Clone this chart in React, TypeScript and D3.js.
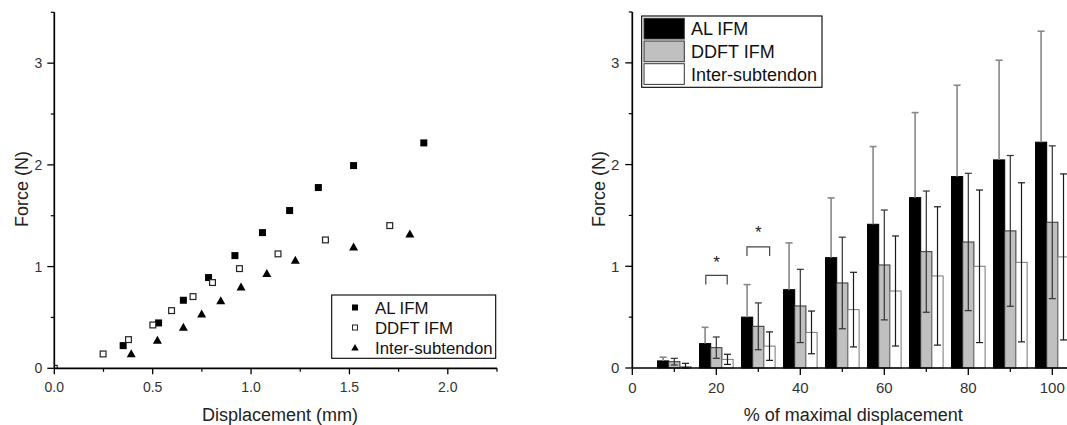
import React from 'react';
import { scaleLinear, scaleBand } from 'd3';

// ---- data: left panel (force vs displacement) ----
const alDisp = [0.35, 0.53, 0.656, 0.784, 0.918, 1.058, 1.196, 1.342, 1.521, 1.878];
const alForce = [0.223, 0.446, 0.669, 0.892, 1.108, 1.334, 1.551, 1.777, 1.993, 2.216];
const ddftDisp = [0, 0.248, 0.377, 0.501, 0.596, 0.705, 0.804, 0.941, 1.137, 1.378, 1.705];
const ddftForce = [0, 0.141, 0.282, 0.426, 0.567, 0.705, 0.843, 0.98, 1.125, 1.262, 1.403];
const interDisp = [0.391, 0.524, 0.656, 0.749, 0.846, 0.949, 1.08, 1.225, 1.521, 1.807];
const interForce = [0.141, 0.272, 0.4, 0.531, 0.662, 0.797, 0.928, 1.059, 1.19, 1.318];

// ---- data: right panel (force at % of maximal displacement) ----
const pct = [10, 20, 30, 40, 50, 60, 70, 80, 90, 100];
const alMean = [0.07, 0.24, 0.5, 0.77, 1.085, 1.413, 1.675, 1.882, 2.046, 2.22];
const alSd = [0.036, 0.16, 0.32, 0.46, 0.587, 0.764, 0.836, 0.898, 0.98, 1.091];
const ddftMean = [0.062, 0.2, 0.41, 0.61, 0.836, 1.013, 1.144, 1.239, 1.348, 1.433];
const ddftSd = [0.033, 0.105, 0.23, 0.36, 0.45, 0.54, 0.596, 0.675, 0.741, 0.751];
const interMean = [0.013, 0.085, 0.215, 0.35, 0.574, 0.757, 0.905, 1.0, 1.039, 1.092];
const interSd = [0.033, 0.05, 0.14, 0.21, 0.367, 0.541, 0.68, 0.75, 0.782, 0.816];

const seriesNames = ['AL IFM', 'DDFT IFM', 'Inter-subtendon'];

// significance brackets (data units)
const sigFrom = [17.5, 27.3];
const sigTo = [22.6, 32.7];
const sigTop = [0.91, 1.19];
const sigLeg = [0.82, 1.1];
const sigStar = [0.985, 1.28];

const FONT = "'Liberation Sans', Arial, sans-serif";

function LeftPanel() {
  const x = scaleLinear().domain([0, 2.25]).range([54.3, 497]);
  const y = scaleLinear().domain([0, 3.5]).range([368.3, 12.3]);
  const xMajor = [0, 0.5, 1, 1.5, 2];
  const xMinor = [0.25, 0.75, 1.25, 1.75, 2.25];
  const yMajor = [0, 1, 2, 3];
  const yMinor = [0.5, 1.5, 2.5, 3.5];
  const sq = 7;

  const tri = (cx, cy, w, h) =>
    `M${cx},${cy - h * 0.6}L${cx + w / 2},${cy + h * 0.4}L${cx - w / 2},${cy + h * 0.4}Z`;

  return (
    <g>
      <defs>
        <clipPath id="leftClip">
          <rect x={x(0)} y={y(3.5)} width={x(2.25) - x(0)} height={y(0) - y(3.5)} />
        </clipPath>
      </defs>

      <g clipPath="url(#leftClip)">
        {alDisp.map((d, i) => (
          <rect key={'a' + i} x={x(d) - sq / 2} y={y(alForce[i]) - sq / 2} width={sq} height={sq} fill="#000" />
        ))}
        {ddftDisp.map((d, i) => (
          <rect key={'d' + i} x={x(d) - sq / 2 + 0.6} y={y(ddftForce[i]) - sq / 2 + 0.6} width={sq - 1.2} height={sq - 1.2}
            fill="#fff" stroke="#222" strokeWidth={1.2} />
        ))}
        {interDisp.map((d, i) => (
          <path key={'t' + i} d={tri(x(d), y(interForce[i]), 9, 8)} fill="#000" />
        ))}
      </g>

      {/* axes */}
      <line x1={x(0)} x2={x(2.25)} y1={y(0)} y2={y(0)} stroke="#000" strokeWidth={1.7} />
      <line x1={x(0)} x2={x(0)} y1={y(0)} y2={y(3.5)} stroke="#000" strokeWidth={1.7} />
      {xMajor.map(t => (
        <g key={'xm' + t}>
          <line x1={x(t)} x2={x(t)} y1={y(0)} y2={y(0) + 6} stroke="#000" strokeWidth={1.3} />
          <text x={x(t)} y={392} textAnchor="middle" fontSize={14} fill="#333">{t.toFixed(1)}</text>
        </g>
      ))}
      {xMinor.map(t => (
        <line key={'xn' + t} x1={x(t)} x2={x(t)} y1={y(0)} y2={y(0) + 3.5} stroke="#000" strokeWidth={1.2} />
      ))}
      {yMajor.map(t => (
        <g key={'ym' + t}>
          <line x1={x(0) - 7} x2={x(0)} y1={y(t)} y2={y(t)} stroke="#000" strokeWidth={1.3} />
          <text x={x(0) - 12} y={y(t) + 5} textAnchor="end" fontSize={14} fill="#333">{t}</text>
        </g>
      ))}
      {yMinor.map(t => (
        <line key={'yn' + t} x1={x(0) - 3.5} x2={x(0)} y1={y(t)} y2={y(t)} stroke="#000" strokeWidth={1.2} />
      ))}

      <text x={280} y={420.5} textAnchor="middle" fontSize={18} fill="#222">Displacement (mm)</text>
      <text transform="translate(27.5,189) rotate(-90)" textAnchor="middle" fontSize={18} fill="#222">Force (N)</text>

      {/* legend */}
      <rect x={331.7} y={295} width={164} height={63.3} fill="#fff" stroke="#000" strokeWidth={1.1} />
      {seriesNames.map((name, i) => {
        const cy = 307.5 + i * 20;
        let marker;
        if (i === 0) marker = <rect x={352} y={cy - 3} width={6} height={6} fill="#000" />;
        else if (i === 1) marker = <rect x={352.5} y={cy - 2.5} width={5} height={5} fill="#fff" stroke="#222" strokeWidth={1} />;
        else marker = <path d={tri(355, cy + 0.5, 7.5, 6.5)} fill="#000" />;
        return (
          <g key={name}>
            {marker}
            <text x={375} y={cy + 6} fontSize={16.8} fill="#111">{name}</text>
          </g>
        );
      })}
    </g>
  );
}

function RightPanel() {
  const x = scaleLinear().domain([0, 104]).range([632.3, 632.3 + 104 * 4.2]);
  const y = scaleLinear().domain([0, 3.5]).range([368, 12]);
  const inner = scaleBand().domain(seriesNames).range([-4, 4]);
  const bw = x(inner.bandwidth()) - x(0);
  const xMajor = [0, 20, 40, 60, 80, 100];
  const xMinor = [10, 30, 50, 70, 90];
  const yMajor = [0, 1, 2, 3];
  const yMinor = [0.5, 1.5, 2.5, 3.5];

  const means = [alMean, ddftMean, interMean];
  const sds = [alSd, ddftSd, interSd];
  const fills = ['#000', '#c0c0c0', '#fff'];
  const strokes = ['#000', '#333', '#777'];
  const errColor = ['#888', '#333', '#1a1a1a'];
  const cap = 3.5;

  return (
    <g>
      {seriesNames.map((name, s) => (
        <g key={name}>
          {pct.map((p, i) => {
            const x0 = x(p + inner(name));
            const top = y(means[s][i]);
            return (
              <rect key={p} x={x0} y={top} width={bw} height={y(0) - top}
                fill={fills[s]} stroke={strokes[s]} strokeWidth={1} />
            );
          })}
        </g>
      ))}
      {seriesNames.map((name, s) => (
        <g key={'e' + name} stroke={errColor[s]} strokeWidth={s === 0 ? 1.6 : 1.2}>
          {pct.map((p, i) => {
            const cx = x(p + inner(name)) + bw / 2;
            const hi = y(means[s][i] + sds[s][i]);
            const lo = s === 0 ? y(means[s][i]) : y(Math.max(0, means[s][i] - sds[s][i]));
            return (
              <g key={p}>
                <line x1={cx} x2={cx} y1={hi} y2={lo} />
                <line x1={cx - cap} x2={cx + cap} y1={hi} y2={hi} />
                {s !== 0 && <line x1={cx - cap} x2={cx + cap} y1={lo} y2={lo} />}
              </g>
            );
          })}
        </g>
      ))}

      {/* significance */}
      {sigFrom.map((f, i) => (
        <g key={'sig' + i}>
          <path d={`M${x(f)},${y(sigLeg[i])}V${y(sigTop[i])}H${x(sigTo[i])}V${y(sigLeg[i])}`}
            fill="none" stroke="#444" strokeWidth={1.2} />
          <text x={x((f + sigTo[i]) / 2)} y={y(sigStar[i])} textAnchor="middle" fontSize={17} fill="#222">*</text>
        </g>
      ))}

      {/* axes */}
      <line x1={x(0)} x2={1067} y1={y(0)} y2={y(0)} stroke="#000" strokeWidth={1.7} />
      <line x1={x(0)} x2={x(0)} y1={y(0)} y2={y(3.5)} stroke="#000" strokeWidth={1.7} />
      {xMajor.map(t => (
        <g key={'xm' + t}>
          <line x1={x(t)} x2={x(t)} y1={y(0)} y2={y(0) + 7} stroke="#000" strokeWidth={1.3} />
          <text x={x(t)} y={392.7} textAnchor="middle" fontSize={15} fill="#333">{t}</text>
        </g>
      ))}
      {xMinor.map(t => (
        <line key={'xn' + t} x1={x(t)} x2={x(t)} y1={y(0)} y2={y(0) + 4} stroke="#000" strokeWidth={1.2} />
      ))}
      {yMajor.map(t => (
        <g key={'ym' + t}>
          <line x1={x(0) - 7} x2={x(0)} y1={y(t)} y2={y(t)} stroke="#000" strokeWidth={1.3} />
          <text x={x(0) - 13} y={y(t) + 5.3} textAnchor="end" fontSize={15} fill="#333">{t}</text>
        </g>
      ))}
      {yMinor.map(t => (
        <line key={'yn' + t} x1={x(0) - 3.5} x2={x(0)} y1={y(t)} y2={y(t)} stroke="#000" strokeWidth={1.2} />
      ))}

      <text x={853.3} y={421} textAnchor="middle" fontSize={18} fill="#222">% of maximal displacement</text>
      <text transform="translate(604.5,189) rotate(-90)" textAnchor="middle" fontSize={18} fill="#222">Force (N)</text>

      {/* legend */}
      <rect x={641.7} y={16} width={180.3} height={71.3} fill="#fff" stroke="#000" strokeWidth={1.1} />
      {seriesNames.map((name, i) => {
        const top = 18.3 + i * 22.7;
        return (
          <g key={'lg' + name}>
            <rect x={644} y={top} width={40.3} height={20.7} fill={fills[i]} stroke="#333" strokeWidth={1} />
            <text x={691} y={top + 16.8} fontSize={18} fill="#111">{name}</text>
          </g>
        );
      })}
    </g>
  );
}

export default function App() {
  return (
    <svg width={1067} height={425} style={{ position: 'absolute', left: 0, top: 0, background: '#fff' }}
      fontFamily={FONT}>
      <rect width={1067} height={425} fill="#fff" />
      <LeftPanel />
      <RightPanel />
    </svg>
  );
}
